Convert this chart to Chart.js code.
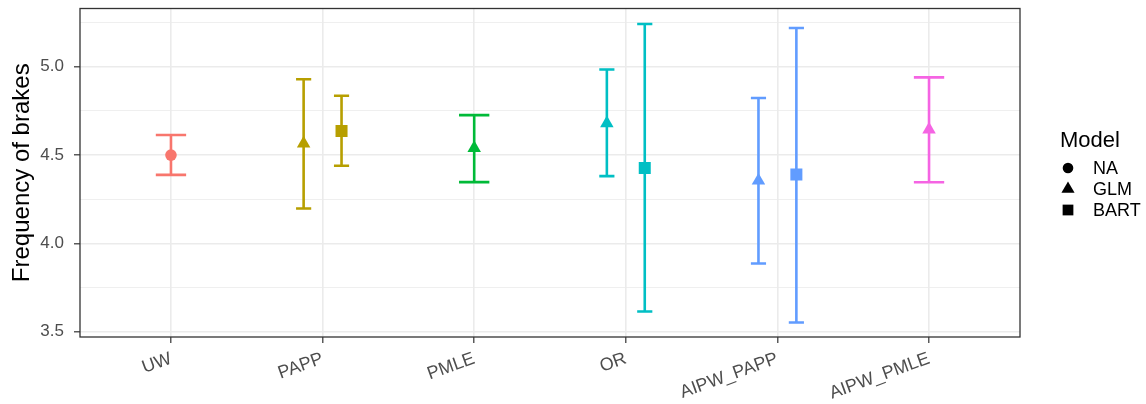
<!DOCTYPE html>
<html>
<head>
<meta charset="utf-8">
<title>Frequency of brakes by estimator</title>
<script src="https://cdn.jsdelivr.net/npm/chart.js@4.4.1/dist/chart.umd.min.js"></script>
<style>
  html, body { margin: 0; padding: 0; background: #fff; }
  #chart { display: block; }
</style>
</head>
<body>
<canvas id="chart" width="1146" height="404" style="width:1146px;height:404px"></canvas>
<script>
  // estimators on the x axis and their colours
  const estimators = ["UW", "PAPP", "PMLE", "OR", "AIPW_PAPP", "AIPW_PMLE"];
  const estColors = ["#F8766D", "#B79F00", "#00BA38", "#00BFC4", "#619CFF", "#F564E3"];

  // one row per estimate
  const rowEstimator = ["UW", "PAPP", "PAPP", "PMLE", "OR", "OR", "AIPW_PAPP", "AIPW_PAPP", "AIPW_PMLE"];
  const rowModel = ["NA", "GLM", "BART", "GLM", "GLM", "BART", "GLM", "BART", "GLM"];
  const estimate = [4.500, 4.565, 4.637, 4.540, 4.680, 4.427, 4.355, 4.390, 4.645];
  const lower = [4.388, 4.198, 4.440, 4.347, 4.381, 3.614, 3.886, 3.552, 4.346];
  const upper = [4.614, 4.929, 4.836, 4.726, 4.985, 5.242, 4.823, 5.220, 4.940];

  // legend / shape mapping
  const models = ["NA", "GLM", "BART"];
  const shapes = ["circle", "triangle", "rect"];

  // y axis ticks
  const yMajor = [3.5, 4.0, 4.5, 5.0];
  const yMinor = [3.75, 4.25, 4.75, 5.25];

  const FONT = "'Liberation Sans', Arial, Helvetica, sans-serif";
  const dodge = 0.25;
  const capWidth = 0.2;
  const pointRadii = [5.8, 7.8, 8.5];
  const legendRadii = [5.3, 7.6, 7.6];

  function groupOf(i) {
    return rowEstimator.map((_, j) => j).filter((j) => rowEstimator[j] === rowEstimator[i]);
  }

  function dodgedX(i) {
    const g = groupOf(i);
    const k = g.indexOf(i);
    return estimators.indexOf(rowEstimator[i]) + 1 + (k - (g.length - 1) / 2) * dodge;
  }

  function isMajor(v) {
    return Math.abs(v * 2 - Math.round(v * 2)) < 1e-9;
  }

  const datasets = models.map((m, mi) => {
    const rows = rowModel.map((_, i) => i).filter((i) => rowModel[i] === m);
    return {
      label: m,
      data: rows.map((i) => ({ x: dodgedX(i), y: estimate[i], lo: lower[i], hi: upper[i], cap: capWidth / groupOf(i).length })),
      pointStyle: shapes[mi],
      pointRadius: pointRadii[mi],
      pointHoverRadius: pointRadii[mi],
      pointBackgroundColor: rows.map((i) => estColors[estimators.indexOf(rowEstimator[i])]),
      pointBorderWidth: 0,
      showLine: false,
    };
  });

  // vertical intervals with caps, under the points
  const errorBars = {
    id: "errorBars",
    beforeDatasetsDraw(chart) {
      const { ctx, scales: { x, y } } = chart;
      ctx.save();
      ctx.lineWidth = 2.6;
      ctx.lineCap = "butt";
      chart.data.datasets.forEach((ds) => {
        ds.data.forEach((p, pi) => {
          const px = x.getPixelForValue(p.x);
          const x0 = x.getPixelForValue(p.x - p.cap / 2);
          const x1 = x.getPixelForValue(p.x + p.cap / 2);
          const yl = y.getPixelForValue(p.lo);
          const yh = y.getPixelForValue(p.hi);
          ctx.strokeStyle = ds.pointBackgroundColor[pi];
          ctx.beginPath();
          ctx.moveTo(px, yl); ctx.lineTo(px, yh);
          ctx.moveTo(x0, yl); ctx.lineTo(x1, yl);
          ctx.moveTo(x0, yh); ctx.lineTo(x1, yh);
          ctx.stroke();
        });
      });
      ctx.restore();
    },
  };

  // panel frame + shape legend on the right
  const frameAndLegend = {
    id: "frameAndLegend",
    afterDraw(chart) {
      const { ctx, chartArea: a } = chart;
      ctx.save();
      ctx.strokeStyle = "#333333";
      ctx.lineWidth = 1.3;
      ctx.strokeRect(a.left, a.top, a.right - a.left, a.bottom - a.top);

      const lx = a.right + 40;
      ctx.fillStyle = "#000";
      ctx.font = "22px " + FONT;
      ctx.textBaseline = "alphabetic";
      ctx.textAlign = "left";
      ctx.fillText("Model", lx, 147);
      ctx.font = "18px " + FONT;
      ctx.textBaseline = "middle";
      models.forEach((m, i) => {
        const yy = 168 + i * 21;
        Chart.helpers.drawPoint(ctx, { pointStyle: shapes[i], radius: legendRadii[i], borderWidth: 0, rotation: 0 }, lx + 8, yy);
        ctx.fillText(m, lx + 33, yy + 1);
      });
      ctx.restore();
    },
  };

  new Chart(document.getElementById("chart"), {
    type: "scatter",
    data: { datasets },
    options: {
      responsive: false,
      devicePixelRatio: 1,
      animation: false,
      events: [],
      layout: { padding: { top: 3, right: 126, bottom: 0, left: 0 } },
      plugins: { legend: { display: false }, tooltip: { enabled: false } },
      scales: {
        x: {
          type: "linear",
          min: 0.4,
          max: 6.6,
          afterBuildTicks: (s) => { s.ticks = estimators.map((_, i) => ({ value: i + 1 })); },
          afterFit: (s) => { s.height = 67; s.paddingLeft = 0; s.paddingRight = 0; },
          ticks: {
            callback: (v, i) => estimators[i],
            minRotation: 20,
            maxRotation: 20,
            autoSkip: false,
            color: "#4D4D4D",
            font: { family: FONT, size: 18 },
            padding: 5,
          },
          grid: { color: "#EBEBEB", lineWidth: 1.6, tickLength: 6, tickColor: "#333333", tickWidth: 1.2 },
          border: { display: false },
        },
        y: {
          min: 3.47,
          max: 5.33,
          afterBuildTicks: (s) => { s.ticks = yMajor.concat(yMinor).sort((a, b) => a - b).map((v) => ({ value: v })); },
          afterFit: (s) => { s.width = 80; s.paddingTop = 0; s.paddingBottom = 0; },
          ticks: {
            callback: (v) => (isMajor(v) ? v.toFixed(1) : ""),
            color: "#4D4D4D",
            font: { family: FONT, size: 17 },
            padding: 10,
          },
          grid: {
            color: "#EBEBEB",
            lineWidth: (c) => (c.tick && isMajor(c.tick.value) ? 1.6 : 0.8),
            tickLength: 6,
            tickColor: (c) => (c.tick && isMajor(c.tick.value) ? "#333333" : "rgba(0,0,0,0)"),
            tickWidth: 1.2,
          },
          border: { display: false },
          title: {
            display: true,
            text: "Frequency of brakes",
            color: "#000",
            font: { family: FONT, size: 24 },
            padding: { top: 8, bottom: 0 },
          },
        },
      },
    },
    plugins: [errorBars, frameAndLegend],
  });
</script>
</body>
</html>
